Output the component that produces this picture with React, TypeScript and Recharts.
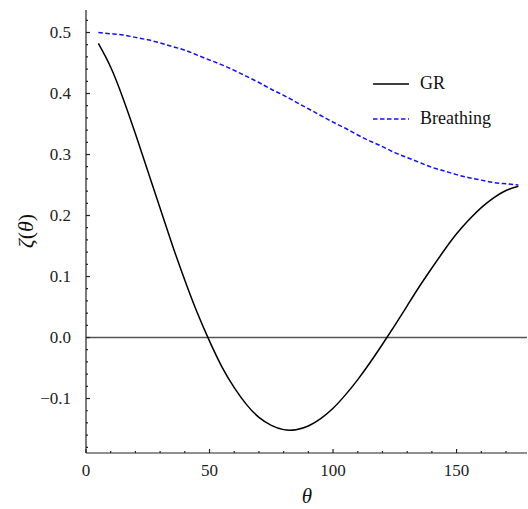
import { LineChart, Line, XAxis, YAxis, ReferenceLine, Label } from 'recharts';

const theta = [
  5, 10, 15, 20, 25, 30, 35, 40, 45, 50, 55, 60, 65, 70, 75, 80, 85, 90,
  95, 100, 105, 110, 115, 120, 125, 130, 135, 140, 145, 150, 155, 160, 165, 170, 175,
];
const grValues = [
  0.482, 0.443, 0.392, 0.334, 0.273, 0.212, 0.151, 0.094, 0.041, -0.006, -0.048, -0.082,
  -0.110, -0.131, -0.144, -0.151, -0.151, -0.145, -0.133, -0.116, -0.094, -0.069, -0.041,
  -0.011, 0.020, 0.052, 0.084, 0.114, 0.143, 0.170, 0.193, 0.213, 0.229, 0.241, 0.248,
];
const breathingValues = [
  0.500, 0.498, 0.496, 0.492, 0.488, 0.483, 0.477, 0.471, 0.463, 0.455, 0.447, 0.438,
  0.428, 0.418, 0.407, 0.397, 0.386, 0.375, 0.364, 0.353, 0.343, 0.332, 0.322, 0.313,
  0.303, 0.295, 0.287, 0.279, 0.273, 0.267, 0.262, 0.258, 0.254, 0.252, 0.250,
];

const xTicks = [0, 10, 20, 30, 40, 50, 60, 70, 80, 90, 100, 110, 120, 130, 140, 150, 160, 170];
const xMajor = [0, 50, 100, 150];
const yTicks = [
  -0.18, -0.16, -0.14, -0.12, -0.1, -0.08, -0.06, -0.04, -0.02, 0, 0.02, 0.04, 0.06, 0.08,
  0.1, 0.12, 0.14, 0.16, 0.18, 0.2, 0.22, 0.24, 0.26, 0.28, 0.3, 0.32, 0.34, 0.36, 0.38,
  0.4, 0.42, 0.44, 0.46, 0.48, 0.5, 0.52,
];
const yMajor = [-0.1, 0, 0.1, 0.2, 0.3, 0.4, 0.5];

const data = theta.map((t, i) => ({ theta: t, gr: grValues[i], breathing: breathingValues[i] }));

const FONT = '"Liberation Serif"';
const FRAME = '#222';
const BLUE = '#1010ff';

type Side = 'bottom' | 'top' | 'left' | 'right';

const isMajor = (side: Side, v: number) =>
  side === 'bottom' || side === 'top'
    ? xMajor.includes(v)
    : yMajor.some((m) => Math.abs(m - v) < 1e-9);

const fmtY = (v: number) => (v < 0 ? '\u2212' + Math.abs(v).toFixed(1) : v.toFixed(1));

// frame ticks point inward, labels only on bottom/left majors
const makeTick = (side: Side, labels: boolean) => (props: any) => {
  const { x, y, payload } = props;
  const v = payload.value as number;
  const major = isMajor(side, v);
  const len = major ? 4 : 2;
  let line;
  if (side === 'bottom') line = <line x1={x} y1={y} x2={x} y2={y - len} />;
  else if (side === 'top') line = <line x1={x} y1={y} x2={x} y2={y + len} />;
  else if (side === 'left') line = <line x1={x} y1={y} x2={x + len} y2={y} />;
  else line = <line x1={x} y1={y} x2={x - len} y2={y} />;
  let label = null;
  if (labels && major) {
    if (side === 'bottom') {
      label = (
        <text x={x} y={y + 22.5} textAnchor="middle" fill="#222" fontSize={17} fontFamily={FONT}>
          {v}
        </text>
      );
    } else if (side === 'left') {
      label = (
        <text x={x - 15} y={y + 5.5} textAnchor="end" fill="#222" fontSize={17} fontFamily={FONT}>
          {fmtY(v)}
        </text>
      );
    }
  }
  return (
    <g>
      <g stroke={FRAME} strokeWidth={1.2}>{line}</g>
      {label}
    </g>
  );
};

function LegendBox() {
  const rows = [
    { name: 'GR', color: '#000', dash: undefined },
    { name: 'Breathing', color: BLUE, dash: '4.5 2.5' },
  ];
  return (
    <div
      style={{
        position: 'absolute',
        left: 373,
        top: 66,
        fontFamily: FONT,
        fontSize: 18,
        color: '#111',
      }}
    >
      {rows.map((r) => (
        <div key={r.name} style={{ display: 'flex', alignItems: 'center', height: 35 }}>
          <svg width={36} height={4} style={{ marginRight: 11 }}>
            <line x1={0} y1={2} x2={36} y2={2} stroke={r.color} strokeWidth={1.5} strokeDasharray={r.dash} />
          </svg>
          <span>{r.name}</span>
        </div>
      ))}
    </div>
  );
}

export default function App() {
  const yDomain = [-0.1893, 0.5369];
  const xDomain = [0, 178.5];
  return (
    <div style={{ position: 'absolute', left: 0, top: 0, width: 528, height: 509, background: '#fff' }}>
      <LineChart width={528} height={509} data={data} margin={{ top: 10, right: 1, bottom: 26, left: 26 }}>
        <XAxis
          xAxisId="b"
          dataKey="theta"
          type="number"
          domain={xDomain}
          allowDataOverflow
          ticks={xTicks}
          interval={0}
          height={30}
          tickSize={0}
          tickMargin={0}
          tickLine={false}
          axisLine={{ stroke: FRAME, strokeWidth: 1.2 }}
          tick={makeTick('bottom', true)}
        >
          <Label
            content={() => (
              <text x={307} y={503} textAnchor="middle" fontSize={21} fontStyle="italic" fontFamily={FONT} fill="#111">
                θ
              </text>
            )}
          />
        </XAxis>
        <XAxis
          xAxisId="t"
          orientation="top"
          type="number"
          domain={xDomain}
          allowDataOverflow
          ticks={xTicks}
          interval={0}
          height={0}
          tickSize={0}
          tickMargin={0}
          tickLine={false}
          axisLine={{ stroke: FRAME, strokeWidth: 1.2 }}
          tick={makeTick('top', false)}
        />
        <YAxis
          yAxisId="l"
          type="number"
          domain={yDomain}
          allowDataOverflow
          ticks={yTicks}
          interval={0}
          width={60}
          tickSize={0}
          tickMargin={0}
          tickLine={false}
          axisLine={{ stroke: FRAME, strokeWidth: 1.2 }}
          tick={makeTick('left', true)}
        >
          <Label
            content={() => (
              <text
                x={25}
                y={231}
                transform="rotate(-90 25 231)"
                textAnchor="middle"
                dominantBaseline="central"
                fontSize={22}
                fontFamily={FONT}
                fill="#111"
              >
                <tspan fontStyle="italic">ζ</tspan>
                <tspan>(</tspan>
                <tspan fontStyle="italic">θ</tspan>
                <tspan>)</tspan>
              </text>
            )}
          />
        </YAxis>
        <YAxis
          yAxisId="r"
          orientation="right"
          type="number"
          domain={yDomain}
          allowDataOverflow
          ticks={yTicks}
          interval={0}
          width={0}
          tickSize={0}
          tickMargin={0}
          tickLine={false}
          axisLine={{ stroke: FRAME, strokeWidth: 1.2 }}
          tick={makeTick('right', false)}
        />
        <ReferenceLine xAxisId="b" yAxisId="l" y={0} stroke="#555" strokeWidth={1.3} />
        <Line
          xAxisId="b"
          yAxisId="l"
          type="natural"
          dataKey="gr"
          stroke="#000"
          strokeWidth={1.5}
          dot={false}
          isAnimationActive={false}
        />
        <Line
          xAxisId="b"
          yAxisId="l"
          type="natural"
          dataKey="breathing"
          stroke={BLUE}
          strokeWidth={1.5}
          strokeDasharray="4.5 2.5"
          dot={false}
          isAnimationActive={false}
        />
      </LineChart>
      <LegendBox />
    </div>
  );
}
